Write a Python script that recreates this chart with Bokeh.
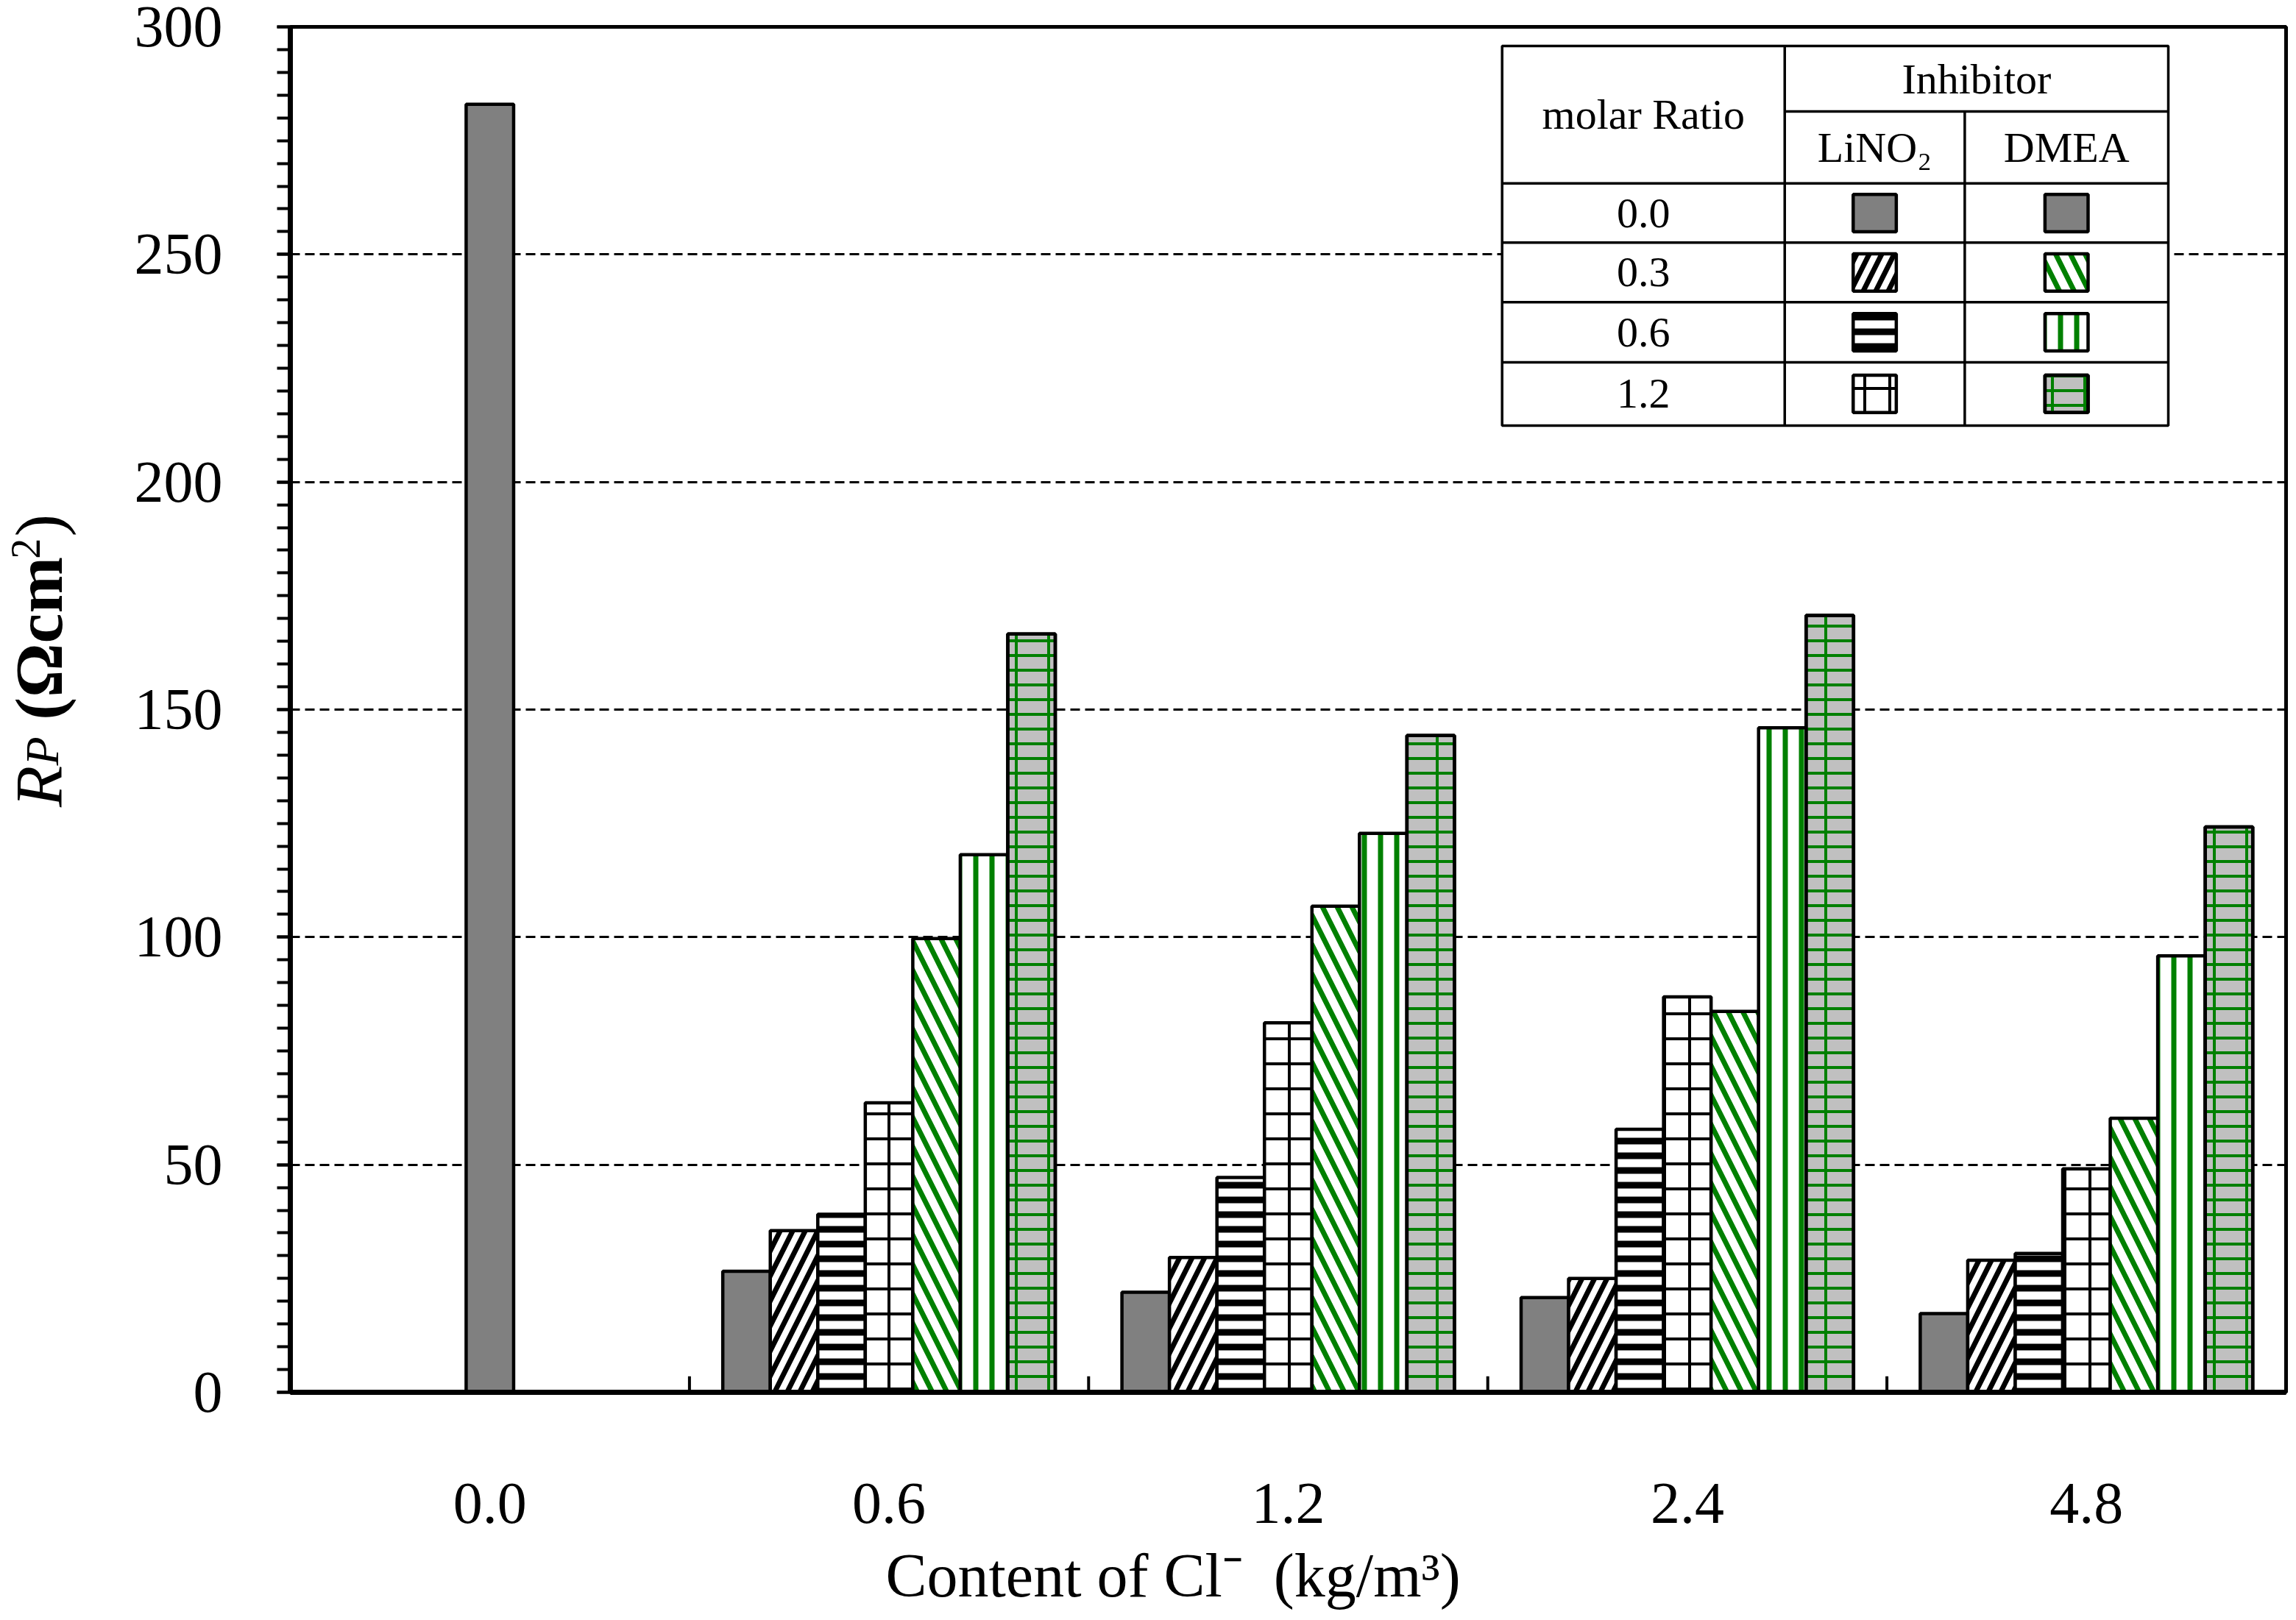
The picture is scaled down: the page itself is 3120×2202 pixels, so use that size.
from bokeh.plotting import figure
from bokeh.layouts import row, column
from bokeh.models import FactorRange, Range1d, SingleIntervalTicker, ColumnDataSource
from bokeh.transform import dodge
from bokeh.core.properties import value
from bokeh.embed import file_html
from bokeh.resources import INLINE
import math

# ---------------- data ----------------
categories = ["0.0", "0.6", "1.2", "2.4", "4.8"]          # content of Cl- (kg/m3)
inhibited_categories = ["0.6", "1.2", "2.4", "4.8"]
control = [283.0, 26.6, 22.0, 20.8, 17.3]                  # molar ratio 0.0
lino2_03 = [35.5, 29.6, 25.0, 29.0]
lino2_06 = [39.1, 47.2, 57.8, 30.5]
lino2_12 = [63.6, 81.2, 86.9, 49.1]
dmea_03 = [99.7, 106.8, 83.7, 60.2]
dmea_06 = [118.1, 122.8, 146.0, 95.9]
dmea_12 = [166.6, 144.3, 170.7, 124.2]
legend_ratios = ["0.0", "0.3", "0.6", "1.2"]
inhibitors = ["LiNO\u2082", "DMEA"]
x_title = "Content of Cl\u207b\u00a0\u00a0(kg/m\u00b3)"

FONT = "Liberation Serif"
GREEN = "#008000"
GRAY = "#808080"

# each style is a list of layers (brick = horizontal courses + vertical joints)
styles = {
    "control": [dict(fill_color=GRAY)],
    "l03": [dict(fill_color="white", hatch_pattern="/", hatch_color="black", hatch_weight=7, hatch_scale=34)],
    "l06": [dict(fill_color="white", hatch_pattern="-", hatch_color="black", hatch_weight=9, hatch_scale=20)],
    "l12": [dict(fill_color="white", hatch_pattern="+", hatch_color="black", hatch_weight=4, hatch_scale=34)],
    "d03": [dict(fill_color="white", hatch_pattern="\\", hatch_color=GREEN, hatch_weight=7, hatch_scale=40)],
    "d06": [dict(fill_color="white", hatch_pattern="|", hatch_color=GREEN, hatch_weight=7, hatch_scale=22)],
    "d12": [dict(fill_color="#c0c0c0", hatch_pattern="-", hatch_color=GREEN, hatch_weight=4, hatch_scale=20),
            dict(fill_color=None, hatch_pattern="|", hatch_color=GREEN, hatch_weight=4, hatch_scale=44)],
}

TOP = 36
FRAME_BOTTOM = 1892
MAIN_H = 2106
BOTTOM = MAIN_H - FRAME_BOTTOM
TOTAL_H = 2194
LABEL_H = TOTAL_H - MAIN_H
TOTAL_W = 3110
LEFT_W = 170

p = figure(width=TOTAL_W - LEFT_W, height=MAIN_H,
           x_range=FactorRange(factors=categories, range_padding=0),
           y_range=Range1d(0, 300),
           output_backend="svg", toolbar_location=None,
           min_border_left=394 - LEFT_W, min_border_right=4,
           min_border_top=TOP, min_border_bottom=BOTTOM)
p.background_fill_color = "white"
p.border_fill_color = "white"
p.outline_line_color = "black"
p.outline_line_width = 5

# grid
p.xgrid.grid_line_color = None
p.yaxis.ticker = SingleIntervalTicker(interval=50, num_minor_ticks=10)
p.ygrid.grid_line_color = "black"
p.ygrid.grid_line_width = 3
p.ygrid.grid_line_dash = "13 7"

# axes
for ax in (p.xaxis, p.yaxis):
    ax.axis_line_width = 7
    ax.axis_line_color = "black"
    ax.major_label_text_font = FONT
    ax.major_label_text_font_size = "80px"
    ax.major_label_text_color = "black"

p.xaxis.major_tick_line_color = None
p.xaxis.minor_tick_line_color = None
p.xaxis.major_tick_out = 0
p.xaxis.major_tick_in = 0
p.xaxis.major_label_standoff = 124

p.yaxis.major_tick_in = 0
p.yaxis.major_tick_out = 18
p.yaxis.minor_tick_in = 0
p.yaxis.minor_tick_out = 18
p.yaxis.major_tick_line_width = 4
p.yaxis.minor_tick_line_width = 4
p.yaxis.major_label_standoff = 74

# category boundary ticks on the x axis (pointing inward)
bounds = list(range(1, len(categories)))
p.segment(x0=bounds, y0=[0] * len(bounds), x1=bounds, y1=[3.5] * len(bounds),
          line_color="black", line_width=4)

# ---------------- bars ----------------
W = 0.119
BAR_LINE = dict(line_color="black", line_width=4.5)

src0 = ColumnDataSource(dict(cat=categories[:1], val=control[:1]))
for layer in styles["control"]:
    p.vbar(x=dodge("cat", 0.0, range=p.x_range), top="val", width=W, source=src0,
           **layer, **BAR_LINE)

series = [("control", control[1:]), ("l03", lino2_03), ("l06", lino2_06), ("l12", lino2_12),
          ("d03", dmea_03), ("d06", dmea_06), ("d12", dmea_12)]
for k, (key, vals) in enumerate(series):
    src = ColumnDataSource(dict(cat=inhibited_categories, val=vals))
    for layer in styles[key]:
        p.vbar(x=dodge("cat", (k - 3) * W, range=p.x_range), top="val", width=W, source=src,
               **layer, **BAR_LINE)

# ---------------- legend table ----------------
TX = [3.036, 3.744, 4.195, 4.705]                       # column boundaries
TY = [295.8, 281.4, 265.6, 252.6, 239.5, 226.3, 212.4]  # row boundaries
TLW = 3.5
p.quad(left=[TX[0]], right=[TX[3]], top=[TY[0]], bottom=[TY[6]],
       fill_color="white", line_color="black", line_width=TLW)
hx0 = [TX[0]] * 4 + [TX[1]]
hx1 = [TX[3]] * 4 + [TX[3]]
hy = [TY[2], TY[3], TY[4], TY[5], TY[1]]
p.segment(x0=hx0, y0=hy, x1=hx1, y1=hy, line_color="black", line_width=TLW)
p.segment(x0=[TX[1], TX[2]], y0=[TY[0], TY[1]], x1=[TX[1], TX[2]], y1=[TY[6], TY[6]],
          line_color="black", line_width=TLW)

row_y = [(TY[i + 2] + TY[i + 3]) / 2 for i in range(4)]
col_x = [(TX[1] + TX[2]) / 2, (TX[2] + TX[3]) / 2]
tfont = value(FONT)
TXT = dict(text_font=tfont, text_font_size="58px", text_align="center",
           text_baseline="middle", text_color="black")
p.text(x=[(TX[0] + TX[1]) / 2] * 4, y=row_y, text=legend_ratios, **TXT)
p.text(x=[(TX[0] + TX[1]) / 2], y=[(TY[0] + TY[2]) / 2], text=["molar Ratio"], **TXT)
p.text(x=[(TX[1] + TX[3]) / 2], y=[(TY[0] + TY[1]) / 2], text=["Inhibitor"], **TXT)
p.text(x=col_x, y=[(TY[1] + TY[2]) / 2] * 2, text=inhibitors, **TXT)

SW_W, SW_H = 0.108, 8.2
swatch_keys = [["control", "control"], ["l03", "d03"], ["l06", "d06"], ["l12", "d12"]]
for i, pair in enumerate(swatch_keys):
    for j, key in enumerate(pair):
        for layer in styles[key]:
            p.rect(x=[col_x[j]], y=[row_y[i]], width=SW_W, height=SW_H,
                   line_color="black", line_width=4.5, **layer)


def blank_panel(w, h, xr, yr, top=0, bottom=0):
    f = figure(width=w, height=h, x_range=xr, y_range=yr,
               output_backend="svg", toolbar_location=None,
               x_axis_location=None, y_axis_location=None,
               min_border_left=0, min_border_right=0,
               min_border_top=top, min_border_bottom=bottom)
    f.grid.visible = False
    f.outline_line_color = None
    f.background_fill_color = "white"
    f.border_fill_color = "white"
    return f


# ---------------- y axis label (composite, in a narrow side panel) ----------------
side = blank_panel(LEFT_W, MAIN_H, Range1d(0, LEFT_W), p.y_range, TOP, BOTTOM)
XB = 52
parts = [
    ("R", "italic", "92px", XB, 128.6),
    ("P", "italic", "64px", XB + 5, 137.7),
    ("(\u03a9cm", "bold", "92px", XB, 147.7),
    ("2", "normal", "56px", XB - 18, 183.1),
    (")", "normal", "92px", XB, 188.0),
]
for txt, style, size, xx, yy in parts:
    side.text(x=[xx], y=[yy], text=[txt], angle=math.pi / 2,
              text_font=tfont, text_font_style=style, text_font_size=size,
              text_align="left", text_baseline="alphabetic", text_color="black")

# ---------------- x axis title (strip below the chart) ----------------
bottom = blank_panel(TOTAL_W, LABEL_H, Range1d(0, TOTAL_W), Range1d(0, LABEL_H))
bottom.text(x=[1203], y=[LABEL_H - 35], text=[x_title], text_font=tfont, text_font_size="84px",
            text_align="left", text_baseline="alphabetic", text_color="black")

layout = column(row(side, p), bottom)
open("out.html", "w").write(file_html(layout, INLINE))
